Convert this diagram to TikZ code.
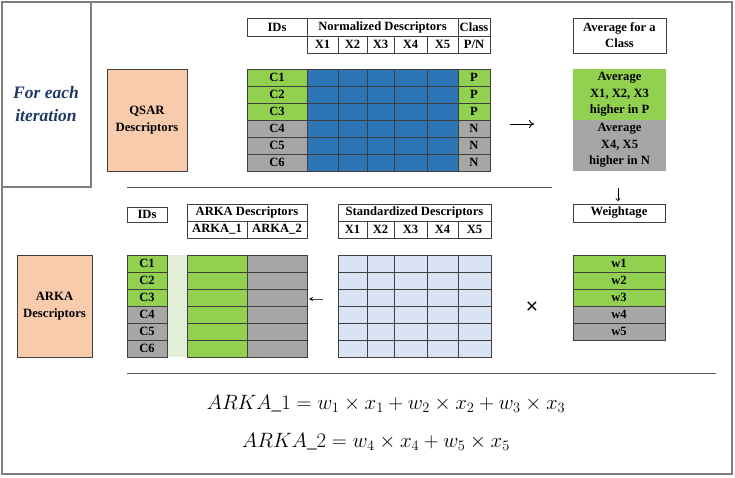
\documentclass[tikz,border=0pt]{standalone}
\usepackage{fontspec}
\setmainfont{Liberation Serif}
\newfontfamily\symfont{Liberation Sans}
\usetikzlibrary{arrows.meta}
\definecolor{gr}{HTML}{92D050}
\definecolor{gy}{HTML}{A6A6A6}
\definecolor{bl}{HTML}{2E75B6}
\definecolor{lb}{HTML}{DAE3F3}
\definecolor{lg}{HTML}{E2F0D9}
\definecolor{peach}{HTML}{F8CBAD}
\definecolor{navy}{HTML}{1F3864}
\definecolor{framec}{HTML}{7F7F7F}
\definecolor{cellline}{HTML}{3F3F3F}
\newcommand\cellbox[7]{\node[cellb, fill=#6, minimum width={(#4-#2)*1pt}, minimum height={(#5-#3)*1pt}, anchor=north west] (#1) at (#2,#3) {#7};}
\begin{document}
\begin{tikzpicture}[x=1pt,y=-1pt,
  cellb/.style={draw=cellline, line width=0.6pt, inner sep=0pt, outer sep=0pt, font=\bfseries\fontsize{12.6}{14}\selectfont, text=black},
  plainb/.style={cellb, draw=none},
  sep/.style={draw=black!65, line width=0.8pt},
  framel/.style={draw=framec, line width=1.4pt},
  arr/.style={draw=black, line width=0.9pt, -{To[length=5pt,width=8pt]}},
  sarr/.style={draw=black!70, line width=0.8pt, -{Stealth[length=4pt,width=4pt,color=black]}},
  eq/.style={font=\fontsize{19.3}{23}\selectfont, inner sep=0pt}]
\useasboundingbox (0,0) rectangle (735,477);
% frame
\draw[framel] (2,2) rectangle (732,474);
\draw[framel] (91,2) -- (91,187) -- (2,187);
\node[font=\bfseries\itshape\fontsize{17.5}{23}\selectfont, text=navy, align=center] (iter) at (46,104) {For each\\iteration};
% separators
\coordinate (s1a) at (127,187); \coordinate (s1b) at (552,187);
\draw[sep] (s1a) -- (s1b);
\coordinate (s2a) at (127,373); \coordinate (s2b) at (716,373);
\draw[sep] (s2a) -- (s2b);
% QSAR
\node[cellb, fill=peach, minimum width=80pt, minimum height=102pt, anchor=north west, align=center, font=\bfseries\fontsize{12.7}{17}\selectfont] (qsar) at (107,69) {QSAR\\Descriptors};
\node[cellb, fill=peach, minimum width=75pt, minimum height=102pt, anchor=north west, align=center, font=\bfseries\fontsize{12.7}{17}\selectfont] (arka) at (17,255) {ARKA\\Descriptors};
% top header
\cellbox{hid}{247}{18}{307}{36}{white}{IDs}
\cellbox{hnd}{307}{18}{458}{36}{white}{Normalized Descriptors}
\cellbox{hcl}{458}{18}{490}{36}{white}{Class}
\cellbox{hx1}{307}{36}{338}{53}{white}{X1}
\cellbox{hx2}{338}{36}{367}{53}{white}{X2}
\cellbox{hx3}{367}{36}{394}{53}{white}{X3}
\cellbox{hx4}{394}{36}{427}{53}{white}{X4}
\cellbox{hx5}{427}{36}{458}{53}{white}{X5}
\cellbox{hpn}{458}{36}{490}{53}{white}{P/N}
% top data
\foreach \i/\c/\k in {1/gr/P,2/gr/P,3/gr/P,4/gy/N,5/gy/N,6/gy/N}{
  \pgfmathsetmacro\ya{52+17*\i}\pgfmathsetmacro\yb{69+17*\i}
  \cellbox{tc\i}{247}{\ya}{307}{\yb}{\c}{C\i}
  \foreach \xa/\xb [count=\j] in {307/338,338/367,367/394,394/427,427/458}{
    \cellbox{tb\i\j}{\xa}{\ya}{\xb}{\yb}{bl}{}
  }
  \cellbox{tk\i}{458}{\ya}{490}{\yb}{\c}{\k}
}
% average
\node[cellb, fill=white, minimum width=93pt, minimum height=35pt, anchor=north west, align=center, font=\bfseries\fontsize{12.6}{16}\selectfont] (havg) at (573,18) {Average for a\\Class};
\node[plainb, fill=gr, minimum width=93pt, minimum height=51pt, anchor=north west, align=center, font=\bfseries\fontsize{12.6}{16.5}\selectfont] (avgp) at (573,69) {Average\\X1, X2, X3\\higher in P};
\node[plainb, fill=gy, minimum width=93pt, minimum height=51pt, anchor=north west, align=center, font=\bfseries\fontsize{12.6}{16.5}\selectfont] (avgn) at (573,120) {Average\\X4, X5\\higher in N};
% arrows
\coordinate (a1s) at (510,124); \coordinate (a1e) at (534,124);
\draw[arr] (a1s) -- (a1e);
\coordinate (a2s) at (618,188); \coordinate (a2e) at (618,201);
\draw[arr, line width=0.7pt, -{To[length=3pt,width=5pt]}] (a2s) -- (a2e);
\coordinate (a3s) at (323,299); \coordinate (a3e) at (309,299);
\draw[sarr] (a3s) -- (a3e);
\node[font=\symfont\fontsize{21}{21}\selectfont, inner sep=0pt] (times) at (532,308) {×};
% bottom headers
\cellbox{bid}{127}{207}{167}{222}{white}{IDs}
\cellbox{bad}{187}{204}{307}{221}{white}{ARKA Descriptors}
\cellbox{ba1}{187}{221}{247}{238}{white}{ARKA\_1}
\cellbox{ba2}{247}{221}{307}{238}{white}{ARKA\_2}
\cellbox{bsd}{338}{204}{491}{221}{white}{Standardized Descriptors}
\cellbox{bx1}{338}{221}{367}{238}{white}{X1}
\cellbox{bx2}{367}{221}{394}{238}{white}{X2}
\cellbox{bx3}{394}{221}{427}{238}{white}{X3}
\cellbox{bx4}{427}{221}{458}{238}{white}{X4}
\cellbox{bx5}{458}{221}{491}{238}{white}{X5}
\cellbox{bwt}{573}{204}{665}{222}{white}{Weightage}
% strip
\node[plainb, fill=lg, minimum width=20pt, minimum height=102pt, anchor=north west] (strip) at (167,255) {};
% bottom data
\foreach \i/\c in {1/gr,2/gr,3/gr,4/gy,5/gy,6/gy}{
  \pgfmathsetmacro\ya{238+17*\i}\pgfmathsetmacro\yb{255+17*\i}
  \cellbox{bc\i}{127}{\ya}{167}{\yb}{\c}{C\i}
  \cellbox{bk\i}{187}{\ya}{247}{\yb}{gr}{}
  \cellbox{bl\i}{247}{\ya}{307}{\yb}{gy}{}
  \foreach \xa/\xb [count=\j] in {338/367,367/394,394/427,427/458,458/491}{
    \cellbox{bs\i\j}{\xa}{\ya}{\xb}{\yb}{lb}{}
  }
}
\foreach \i/\c in {1/gr,2/gr,3/gr,4/gy,5/gy}{
  \pgfmathsetmacro\ya{238+17*\i}\pgfmathsetmacro\yb{255+17*\i}
  \cellbox{w\i}{573}{\ya}{665}{\yb}{\c}{w\i}
}
% equations
\node[eq] (eq1) at (386,404) {$ARKA\_1 = w_1 \times x_1 + w_2 \times x_2 + w_3 \times x_3$};
\node[eq] (eq2) at (376,442) {$ARKA\_2 = w_4 \times x_4 + w_5 \times x_5$};
\end{tikzpicture}
\end{document}
